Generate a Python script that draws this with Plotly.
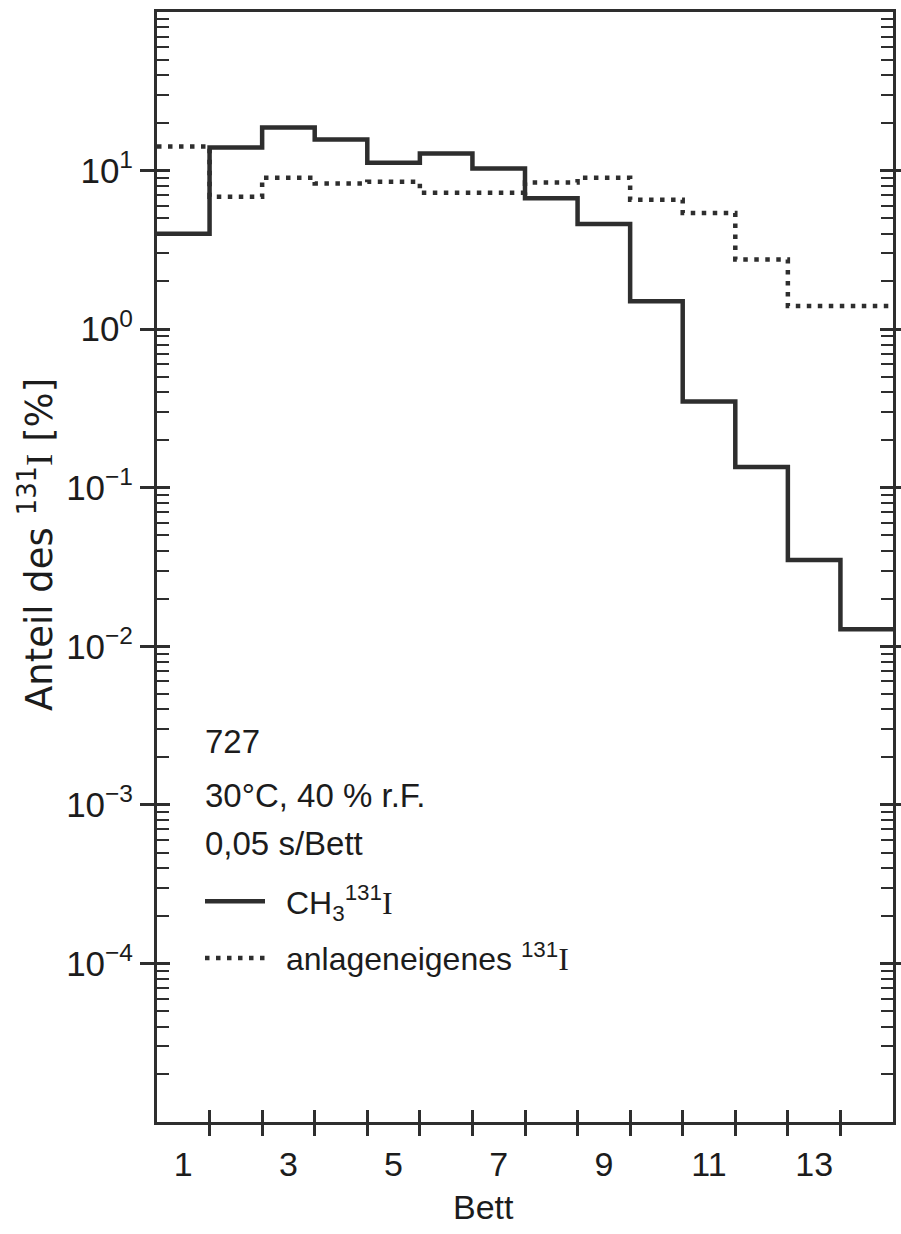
import numpy as np
import plotly.graph_objects as go

# Bett number and activity share per bed (percent of 131I)
beds = np.arange(1, 15)
ch3i = [4.0, 14.0, 18.7, 15.7, 11.2, 12.8, 10.3, 6.7, 4.6, 1.5, 0.35, 0.135, 0.035, 0.0128]
anlage = [14.2, 6.85, 9.0, 8.3, 8.5, 7.25, 7.25, 8.4, 9.0, 6.55, 5.4, 2.75, 1.4, 1.4]

x_label_vals = [1, 3, 5, 7, 9, 11, 13]
y_decades = [1e-4, 1e-3, 1e-2, 1e-1, 1e0, 1e1]
y_decade_labels = ["10<sup>−4</sup>", "10<sup>−3</sup>", "10<sup>−2</sup>",
                   "10<sup>−1</sup>", "10<sup>0</sup>", "10<sup>1</sup>"]
info_lines = ["727", "30°C, 40 % r.F.", "0,05 s/Bett"]

SERIF_I = "<span style='font-family:Liberation Serif'>I</span>"
name_ch3i = "\u2002CH<sub>3</sub><sup>131</sup>" + SERIF_I
name_anlage = "\u2002anlageneigenes <sup>131</sup>" + SERIF_I

# histogram steps: one edge more than beds
edges = np.append(beds - 0.5, beds[-1] + 0.5)


def steps(values):
    return np.append(values, values[-1])


LINE = "#2e2e2e"
TEXT = "#1c1c1c"
FONT = "Liberation Sans, Arial, sans-serif"
TITLE_FONT = "DejaVu Sans, Liberation Sans, sans-serif"

W, H = 901, 1234
L, R, T, B = 157, 8, 12, 112
PW, PH = W - L - R, H - T - B


def px_x(px):
    return (px - L) / PW


def px_y(py):
    return (H - B - py) / PH


fig = go.Figure()
fig.add_trace(go.Scatter(
    x=edges, y=steps(ch3i), mode="lines", name=name_ch3i, legendgroup="a",
    line=dict(shape="hv", width=4.5, color=LINE)))
fig.add_trace(go.Scatter(
    x=edges, y=steps(anlage), mode="lines", name=name_anlage, legendgroup="b",
    line=dict(shape="hv", width=4.5, color=LINE, dash="4.5px,6.5px")))

# empty carriers so the overlaid tick-only axes get drawn
for xa, ya in [("x2", "y2"), ("x3", "y3"), ("x", "y4")]:
    fig.add_trace(go.Scatter(x=edges, y=steps(ch3i), mode="none", xaxis=xa, yaxis=ya,
                             showlegend=False, hoverinfo="skip"))

xr = [0.5, 14.5]
yr = [-5, 2]
minor_vals = [k * 10.0 ** e for e in range(-5, 2) for k in range(2, 10)]

common_x = dict(range=xr, showgrid=False, zeroline=False, tickmode="array", automargin=False)
common_y = dict(type="log", range=yr, showgrid=False, zeroline=False, tickmode="array",
                automargin=False)
minor_in = dict(tickvals=minor_vals, ticks="inside", ticklen=12, tickwidth=2, tickcolor=LINE)

fig.update_layout(
    width=W, height=H,
    margin=dict(l=L, r=R, t=T, b=B, autoexpand=False),
    plot_bgcolor="white", paper_bgcolor="white",
    font=dict(family=FONT, size=34, color=TEXT),
    showlegend=True,
    legend=dict(x=px_x(200), y=px_y(874), xanchor="left", yanchor="top",
                bgcolor="rgba(0,0,0,0)", font=dict(size=32, color=TEXT),
                itemwidth=60, tracegroupgap=12),
    xaxis=dict(**common_x, showline=True, linewidth=3, linecolor=LINE, mirror=True,
               tickvals=x_label_vals, ticks="outside", ticklen=10,
               tickcolor="rgba(0,0,0,0)", tickfont=dict(size=34, color=TEXT)),
    xaxis2=dict(**common_x, overlaying="x", anchor="y2", side="bottom",
                showline=False, tickvals=list(edges[1:-1]), ticks="outside",
                ticklen=13, tickwidth=3, tickcolor=LINE, showticklabels=False),
    xaxis3=dict(**common_x, overlaying="x", anchor="y3", side="bottom",
                showline=False, tickvals=list(edges[1:-1]), ticks="inside",
                ticklen=12, tickwidth=3, tickcolor=LINE, showticklabels=False),
    yaxis=dict(**common_y, showline=True, linewidth=3, linecolor=LINE, mirror=True,
               tickvals=y_decades, ticktext=y_decade_labels, ticks="outside",
               ticklen=14, tickwidth=3, tickcolor=LINE,
               tickfont=dict(size=35, color=TEXT), minor=minor_in),
    yaxis2=dict(**common_y, overlaying="y", anchor="x2", side="left",
                showline=False, tickvals=y_decades, ticks="inside", ticklen=13,
                tickwidth=3, tickcolor=LINE, showticklabels=False),
    yaxis3=dict(**common_y, overlaying="y", anchor="x3", side="right",
                showline=False, tickvals=y_decades, ticks="inside", ticklen=13,
                tickwidth=3, tickcolor=LINE, showticklabels=False, minor=minor_in),
    yaxis4=dict(**common_y, overlaying="y", anchor="x", side="right",
                showline=False, tickvals=y_decades, ticks="outside", ticklen=8,
                tickwidth=3, tickcolor=LINE, showticklabels=False),
)

annotations = []
for line, py in zip(info_lines, [742, 795, 843]):
    annotations.append(dict(text=line, xref="paper", yref="paper",
                            x=px_x(203), y=px_y(py), xanchor="left", yanchor="middle",
                            showarrow=False, font=dict(size=33, color=TEXT)))
annotations.append(dict(text="Anteil des <sup>131</sup>" + SERIF_I + " [%]",
                        xref="paper", yref="paper", x=px_x(36), y=px_y(545),
                        xanchor="center", yanchor="middle", textangle=-90,
                        showarrow=False,
                        font=dict(family=TITLE_FONT, size=37, color=TEXT)))
annotations.append(dict(text="Bett", xref="paper", yref="paper",
                        x=px_x(483), y=px_y(1207), xanchor="center", yanchor="middle",
                        showarrow=False, font=dict(size=34, color=TEXT)))
fig.update_layout(annotations=annotations)

fig.write_html("out.html")
